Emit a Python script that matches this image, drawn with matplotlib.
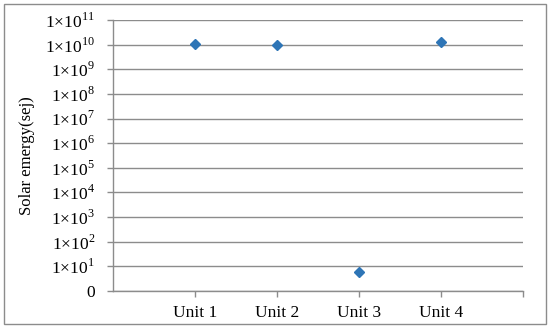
import matplotlib
matplotlib.use("Agg")
import matplotlib.pyplot as plt
from matplotlib.patches import Rectangle

# Data
units = ["Unit 1", "Unit 2", "Unit 3", "Unit 4"]
emergy = [1.05e10, 1.0e10, 5.7, 1.3e10]
exponents = list(range(0, 12))

plt.rcParams['font.family'] = ['Liberation Serif', 'DejaVu Serif']
plt.rcParams['mathtext.fontset'] = 'custom'
plt.rcParams['mathtext.rm'] = 'Liberation Serif'

fig = plt.figure(figsize=(5.5, 3.31), dpi=100)
ax = fig.add_axes([0.2055, 0.1208, 0.7455, 0.8188])

grey = '#8c8c8c'
x = list(range(1, len(units) + 1))
ax.plot(x, emergy, linestyle='none', marker='D', markersize=5.5,
        color='#2e75b6', zorder=3, clip_on=False)

ax.set_yscale('log')
ax.set_ylim(1, 1e11)
ax.set_xlim(0, len(units) + 1)

yticks = [10.0 ** e for e in exponents]
ylabels = ['0'] + [r'1$\times$10$^{%d}$' % e for e in exponents[1:]]
ax.set_yticks(yticks)
ax.set_yticklabels(ylabels, fontsize=12.5)
ax.minorticks_off()
ax.set_xticks(x + [len(units) + 1])
ax.set_xticklabels(units + [''], fontsize=12.5)

ax.grid(axis='y', color=grey, linewidth=1)
ax.set_axisbelow(True)
for s in ['top', 'right']:
    ax.spines[s].set_visible(False)
for s in ['left', 'bottom']:
    ax.spines[s].set_color(grey)
    ax.spines[s].set_linewidth(1)
ax.tick_params(axis='both', color=grey, length=4, width=1)
ax.tick_params(axis='y', pad=9)
ax.tick_params(axis='x', pad=6)

ax.set_ylabel('Solar emergy(sej)', fontsize=12)
ax.yaxis.set_label_coords(-0.19, 0.5)

# outer chart border
fig.patches.append(Rectangle((0.008, 0.021), 0.984, 0.967, transform=fig.transFigure,
                             fill=False, edgecolor='#8c8c8c', linewidth=1))

fig.savefig('out.png', dpi=100)
